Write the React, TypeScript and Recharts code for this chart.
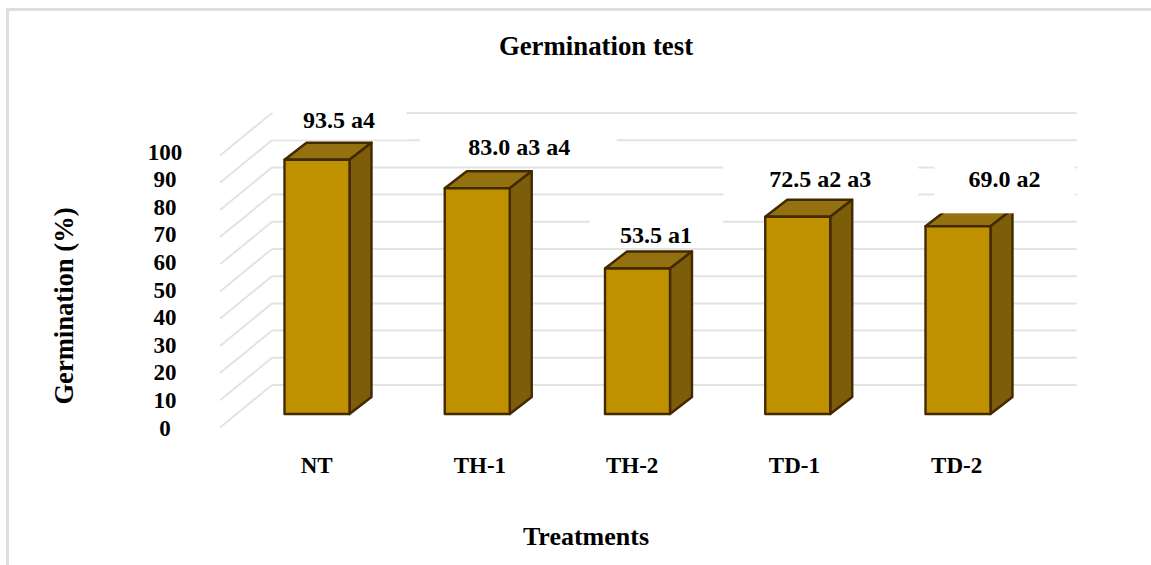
import { Bar, BarChart, CartesianGrid, LabelList, XAxis, YAxis } from "recharts";

const treatments = ["NT", "TH-1", "TH-2", "TD-1", "TD-2"];
const germination = [93.5, 83.0, 53.5, 72.5, 69.0];
const letters = ["a4", "a3 a4", "a1", "a2 a3", "a2"];
const yTicks = [0, 10, 20, 30, 40, 50, 60, 70, 80, 90, 100];

const rows = treatments.map((name, i) => ({
  name,
  value: germination[i],
  label: `${germination[i].toFixed(1)} ${letters[i]}`,
}));

const FONT = "'Liberation Serif', 'Times New Roman', serif";
const DEPTH_X = 22;
const DEPTH_Y = 17;

// label placement relative to the bar's top left corner
const labelOffsets = [
  [54.5, -32],
  [74.5, -33.5],
  [51, -25.5],
  [55, -30],
  [79, -39],
];
// white patches behind the labels: left, right, top, bottom around the text anchor
const labelBoxes = [
  [-66.5, 67.5, -28, 12],
  [-99.5, 97.5, -27, 7],
  [-66, 67, -35, 5],
  [-97, 98, -27, 9],
  [-70, 70, -27, 26],
];
const xTickOffsets = [0, 3, -5, -3, -1];

function Box3D({ x, y, width, height }: any) {
  const r = x + width;
  const b = y + height;
  const edge = { stroke: "#432900", strokeWidth: 2.4, strokeLinejoin: "round" as const };
  return (
    <g>
      <polygon
        points={`${x},${y} ${x + DEPTH_X},${y - DEPTH_Y} ${r + DEPTH_X},${y - DEPTH_Y} ${r},${y}`}
        fill="#937010"
        {...edge}
      />
      <polygon
        points={`${r},${y} ${r + DEPTH_X},${y - DEPTH_Y} ${r + DEPTH_X},${b - DEPTH_Y} ${r},${b}`}
        fill="#7c5e0a"
        {...edge}
      />
      <rect x={x} y={y} width={width} height={height} fill="#bf9000" {...edge} />
    </g>
  );
}

// back wall line plus the diagonal running down the side wall
function WallLine({ x1, x2, y1 }: any) {
  const left = x1 + 35.5;
  return (
    <g stroke="#e3e3e3" strokeWidth={2} fill="none">
      <line x1={left} y1={y1 - 29} x2={x2 + 39} y2={y1 - 29} />
      <line x1={x1 - 16.5} y1={y1 + 13.5} x2={left} y2={y1 - 29} />
    </g>
  );
}

function YTick({ y, payload }: any) {
  const shift = 14 - (payload.value / 100) * 4;
  return (
    <text x={165} y={y + shift + 7.5} textAnchor="middle" fontFamily={FONT} fontWeight="bold" fontSize={23} fill="#000">
      {payload.value}
    </text>
  );
}

function XTick({ x, y, payload, index }: any) {
  return (
    <text x={x + xTickOffsets[index]} y={y} textAnchor="middle" fontFamily={FONT} fontWeight="bold" fontSize={23} fill="#000">
      {payload.value}
    </text>
  );
}

function BarLabel({ x, y, value, index }: any) {
  const [dx, dy] = labelOffsets[index];
  const [l, r, t, b] = labelBoxes[index];
  const cx = x + dx;
  const base = y + dy;
  return (
    <g>
      <rect x={cx + l} y={base + t} width={r - l} height={b - t} fill="#fff" />
      <text x={cx} y={base} textAnchor="middle" fontFamily={FONT} fontWeight="bold" fontSize={24} fill="#000">
        {value}
      </text>
    </g>
  );
}

export default function App() {
  return (
    <div style={{ position: "absolute", left: 0, top: 0, width: 1151, height: 565, background: "#fff", overflow: "hidden" }}>
      <div
        style={{
          position: "absolute",
          left: 6,
          top: 8,
          right: 0,
          bottom: 0,
          borderLeft: "3px solid #dedede",
          borderTop: "3px solid #dedede",
        }}
      />
      <BarChart
        width={1151}
        height={565}
        data={rows}
        margin={{ top: 142, right: 113.25, bottom: 91, left: 176.5 }}
        style={{ position: "absolute", left: 0, top: 0 }}
      >
        <CartesianGrid vertical={false} horizontal={(p: any) => <WallLine key={p.key} {...p} />} />
        <XAxis
          dataKey="name"
          height={60}
          axisLine={false}
          tickLine={false}
          tickSize={0}
          tickMargin={0}
          tick={(p: any) => <XTick {...p} y={473} />}
        />
        <YAxis
          width={60}
          domain={[0, 100]}
          ticks={yTicks}
          interval={0}
          axisLine={false}
          tickLine={false}
          tick={(p: any) => <YTick {...p} />}
        />
        <Bar dataKey="value" barSize={65} shape={(p: any) => <Box3D {...p} />} isAnimationActive={false}>
          <LabelList dataKey="label" content={(p: any) => <BarLabel {...p} />} />
        </Bar>
        <text x={596} y={55} textAnchor="middle" fontFamily={FONT} fontWeight="bold" fontSize={26.8} fill="#000">
          Germination test
        </text>
        <text x={586} y={545} textAnchor="middle" fontFamily={FONT} fontWeight="bold" fontSize={26} fill="#000">
          Treatments
        </text>
        <text
          transform="translate(73,306) rotate(-90)"
          textAnchor="middle"
          fontFamily={FONT}
          fontWeight="bold"
          fontSize={26.6}
          fill="#000"
        >
          Germination (%)
        </text>
      </BarChart>
    </div>
  );
}
